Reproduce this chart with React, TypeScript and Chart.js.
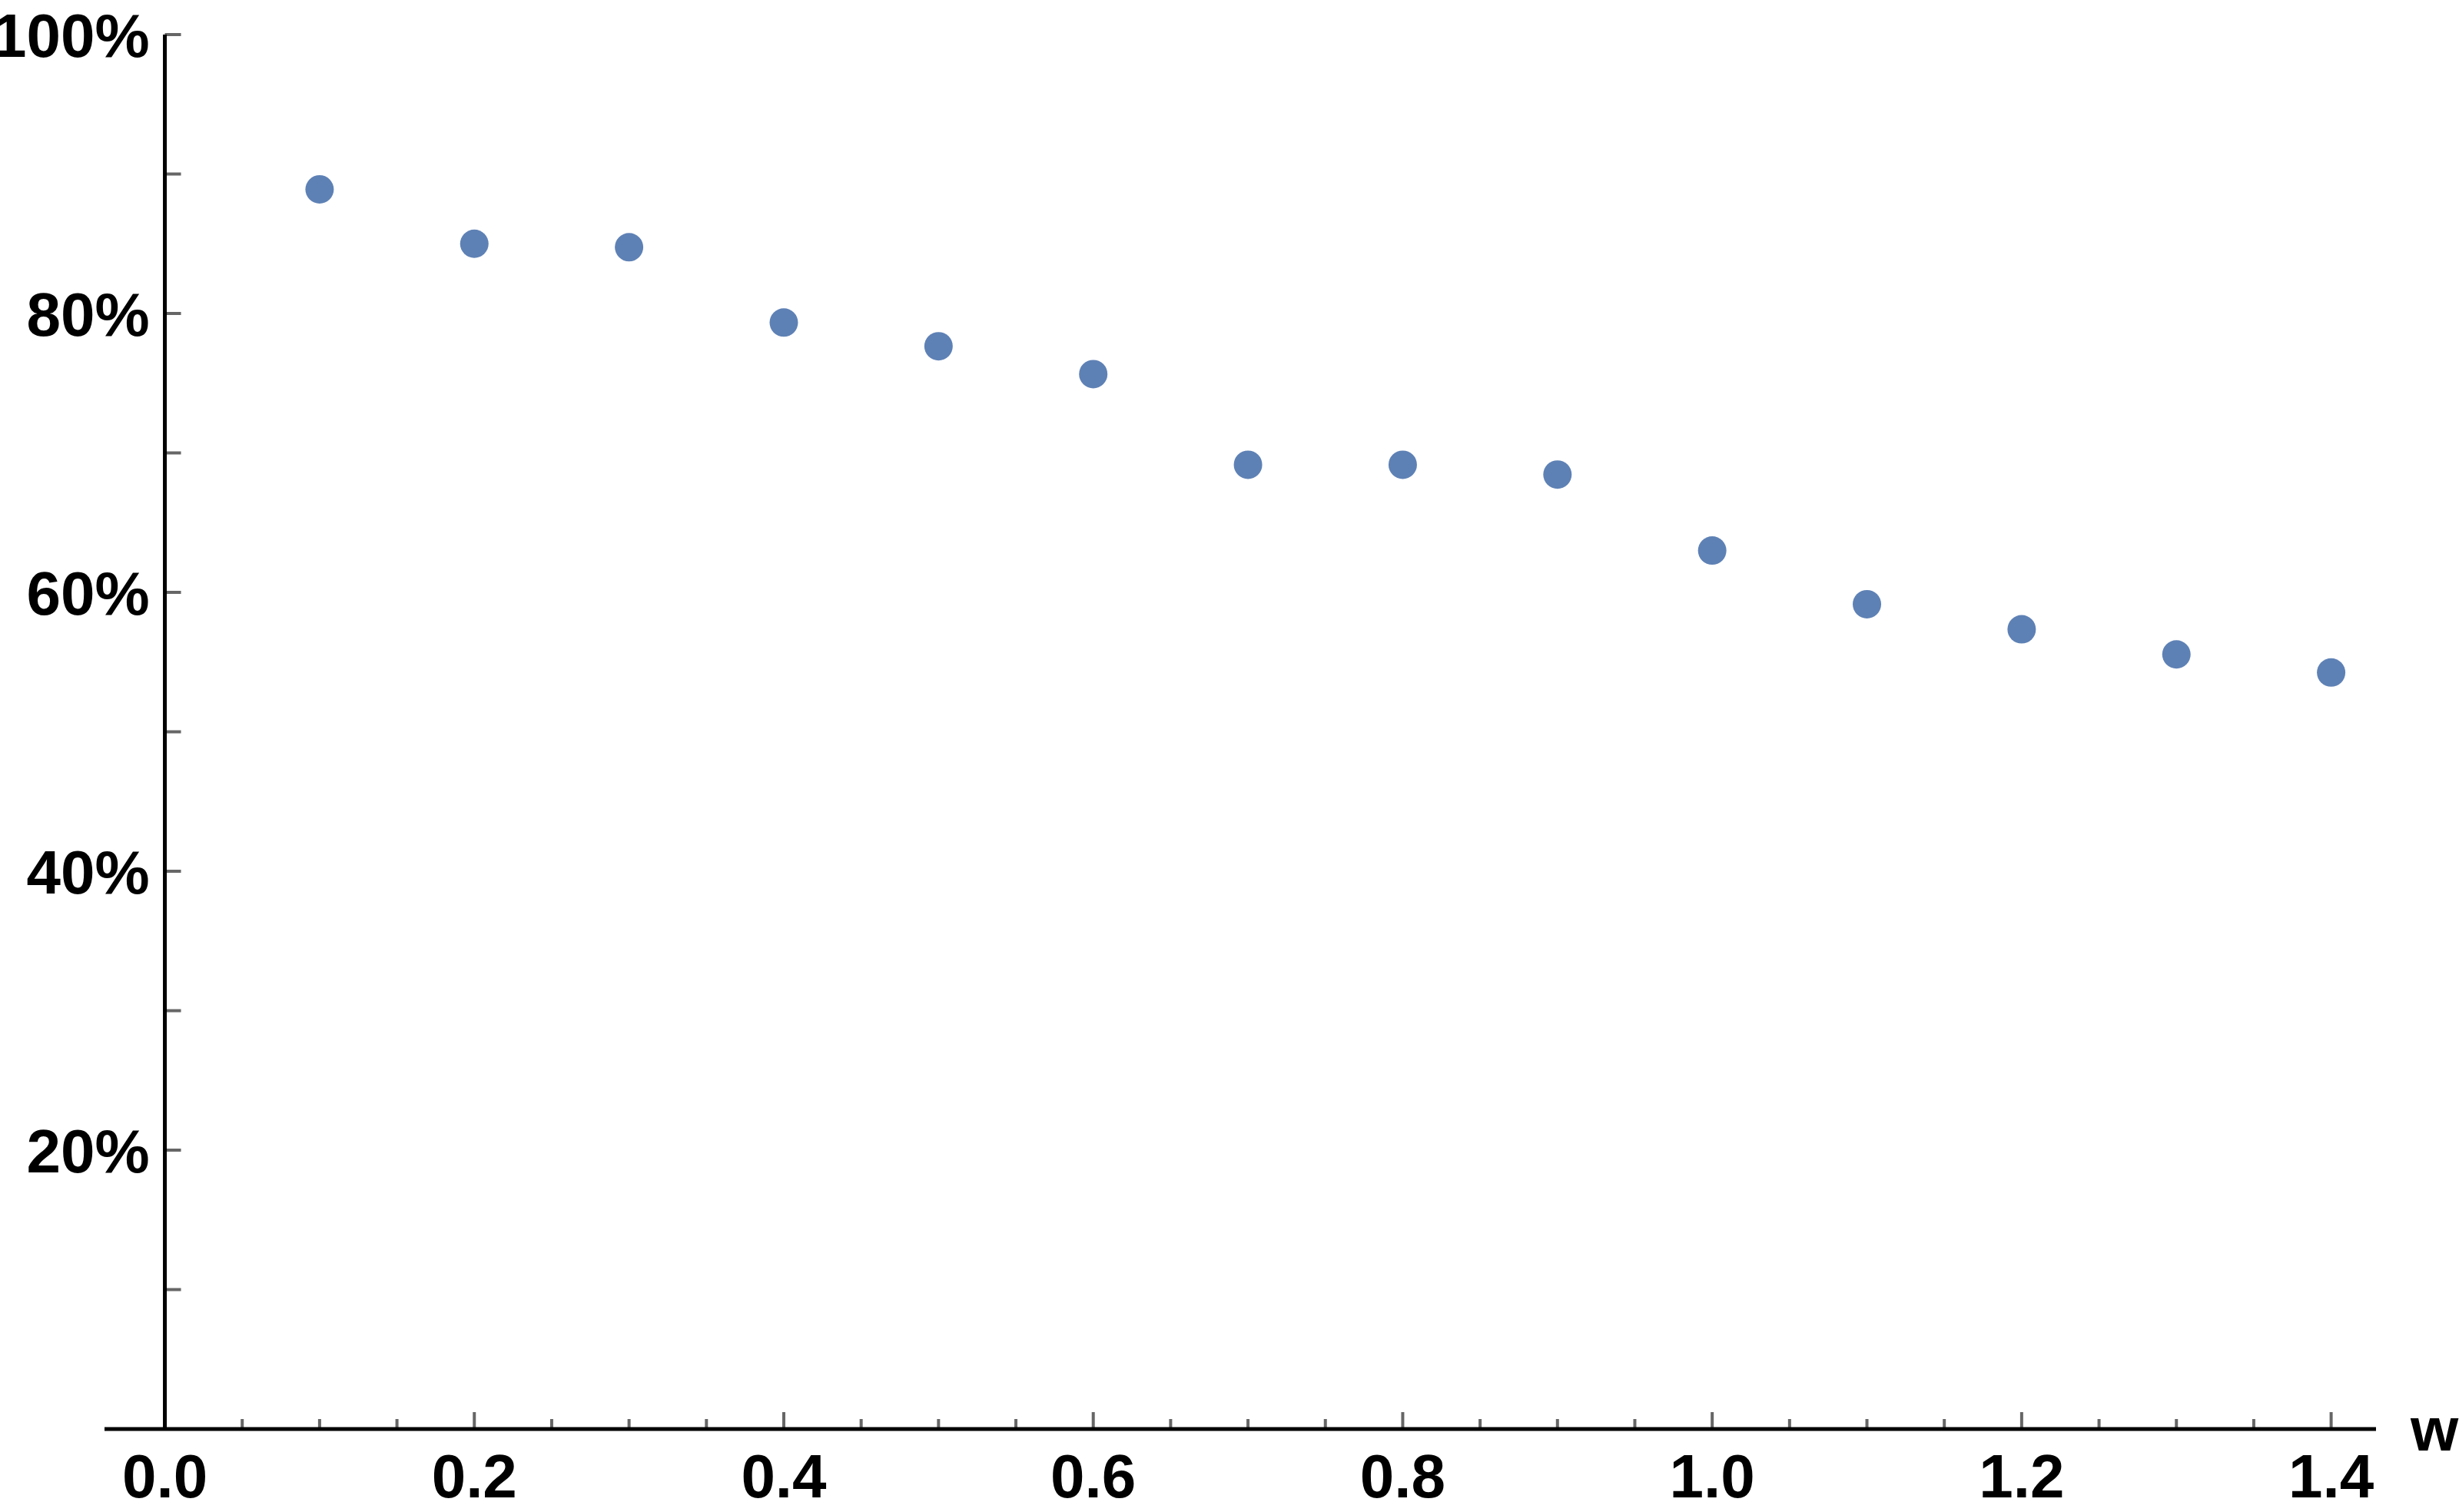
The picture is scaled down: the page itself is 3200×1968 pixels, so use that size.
import React, { useEffect, useRef } from "react";
import { Chart, registerables } from "chart.js";

Chart.register(...registerables);

// ---- data ----
const wValues = [0.1, 0.2, 0.3, 0.4, 0.5, 0.6, 0.7, 0.8, 0.9, 1.0, 1.1, 1.2, 1.3, 1.4];
const percentValues = [88.9, 85.0, 84.75, 79.35, 77.65, 75.65, 69.15, 69.15, 68.45, 63.0, 59.15, 57.35, 55.55, 54.25];

const xTickValues = [0, 0.2, 0.4, 0.6, 0.8, 1.0, 1.2, 1.4];
const xTickLabels = ["0.0", "0.2", "0.4", "0.6", "0.8", "1.0", "1.2", "1.4"];
const xMinorTickValues = [0.05, 0.1, 0.15, 0.25, 0.3, 0.35, 0.45, 0.5, 0.55, 0.65, 0.7, 0.75, 0.85, 0.9, 0.95, 1.05, 1.1, 1.15, 1.25, 1.3, 1.35];
const yTickValues = [20, 40, 60, 80, 100];
const yTickLabels = ["20%", "40%", "60%", "80%", "100%"];
const yMinorTickValues = [10, 30, 50, 70, 90];
const xAxisTitle = "w";

const POINT_COLOR = "#5E81B5";
const FONT = "bold 80px 'Liberation Sans', Arial, sans-serif";

const axesPlugin = {
  id: "mathematicaAxes",
  beforeDatasetsDraw(chart: any) {
    const { ctx, chartArea, scales } = chart;
    const xs = scales.x;
    const ys = scales.y;
    const x0 = xs.getPixelForValue(0);
    const y0 = ys.getPixelForValue(0);
    const yTop = ys.getPixelForValue(100);
    ctx.save();

    // ticks (gray)
    ctx.strokeStyle = "#666666";
    ctx.lineWidth = 4;
    ctx.lineCap = "butt";
    ctx.beginPath();
    for (const v of xMinorTickValues) {
      const px = xs.getPixelForValue(v);
      ctx.moveTo(px, y0);
      ctx.lineTo(px, y0 - 13);
    }
    for (const v of xTickValues) {
      if (v === 0) continue;
      const px = xs.getPixelForValue(v);
      ctx.moveTo(px, y0);
      ctx.lineTo(px, y0 - 22);
    }
    for (const v of yMinorTickValues.concat(yTickValues)) {
      const py = ys.getPixelForValue(v);
      ctx.moveTo(x0, py);
      ctx.lineTo(x0 + 21, py);
    }
    ctx.stroke();

    // axis lines (black)
    ctx.strokeStyle = "#000000";
    ctx.lineWidth = 5;
    ctx.beginPath();
    ctx.moveTo(chartArea.left, y0);
    ctx.lineTo(chartArea.right, y0);
    ctx.moveTo(x0, y0);
    ctx.lineTo(x0, yTop);
    ctx.stroke();

    // labels
    ctx.fillStyle = "#000000";
    ctx.font = FONT;
    ctx.textBaseline = "alphabetic";
    ctx.textAlign = "center";
    xTickValues.forEach((v, i) => {
      ctx.fillText(xTickLabels[i], xs.getPixelForValue(v), y0 + 89);
    });
    ctx.textAlign = "right";
    yTickValues.forEach((v, i) => {
      ctx.fillText(yTickLabels[i], x0 - 20, ys.getPixelForValue(v) + 28.5);
    });
    ctx.textAlign = "left";
    ctx.fillText(xAxisTitle, chartArea.right + 45, y0 + 28);
    ctx.restore();
  },
};

export default function App() {
  const canvasRef = useRef<HTMLCanvasElement | null>(null);

  useEffect(() => {
    if (!canvasRef.current) return;
    const chart = new Chart(canvasRef.current, {
      type: "scatter",
      data: {
        datasets: [
          {
            data: wValues.map((w, i) => ({ x: w, y: percentValues[i] })),
            backgroundColor: POINT_COLOR,
            borderColor: POINT_COLOR,
            borderWidth: 0,
            pointRadius: 18.5,
            pointHoverRadius: 18.5,
            clip: false as any,
          },
        ],
      },
      options: {
        animation: false,
        responsive: true,
        maintainAspectRatio: false,
        devicePixelRatio: 1,
        layout: { padding: { left: 136, right: 108, top: 45, bottom: 108 } },
        plugins: { legend: { display: false }, tooltip: { enabled: false } },
        scales: {
          x: { type: "linear", min: -0.039, max: 1.429, display: false },
          y: { type: "linear", min: 0, max: 100, display: false },
        },
      },
      plugins: [axesPlugin],
    });
    return () => chart.destroy();
  }, []);

  return (
    <div style={{ position: "fixed", left: 0, top: 0, width: 3200, height: 1968, background: "#ffffff" }}>
      <canvas ref={canvasRef} />
    </div>
  );
}
